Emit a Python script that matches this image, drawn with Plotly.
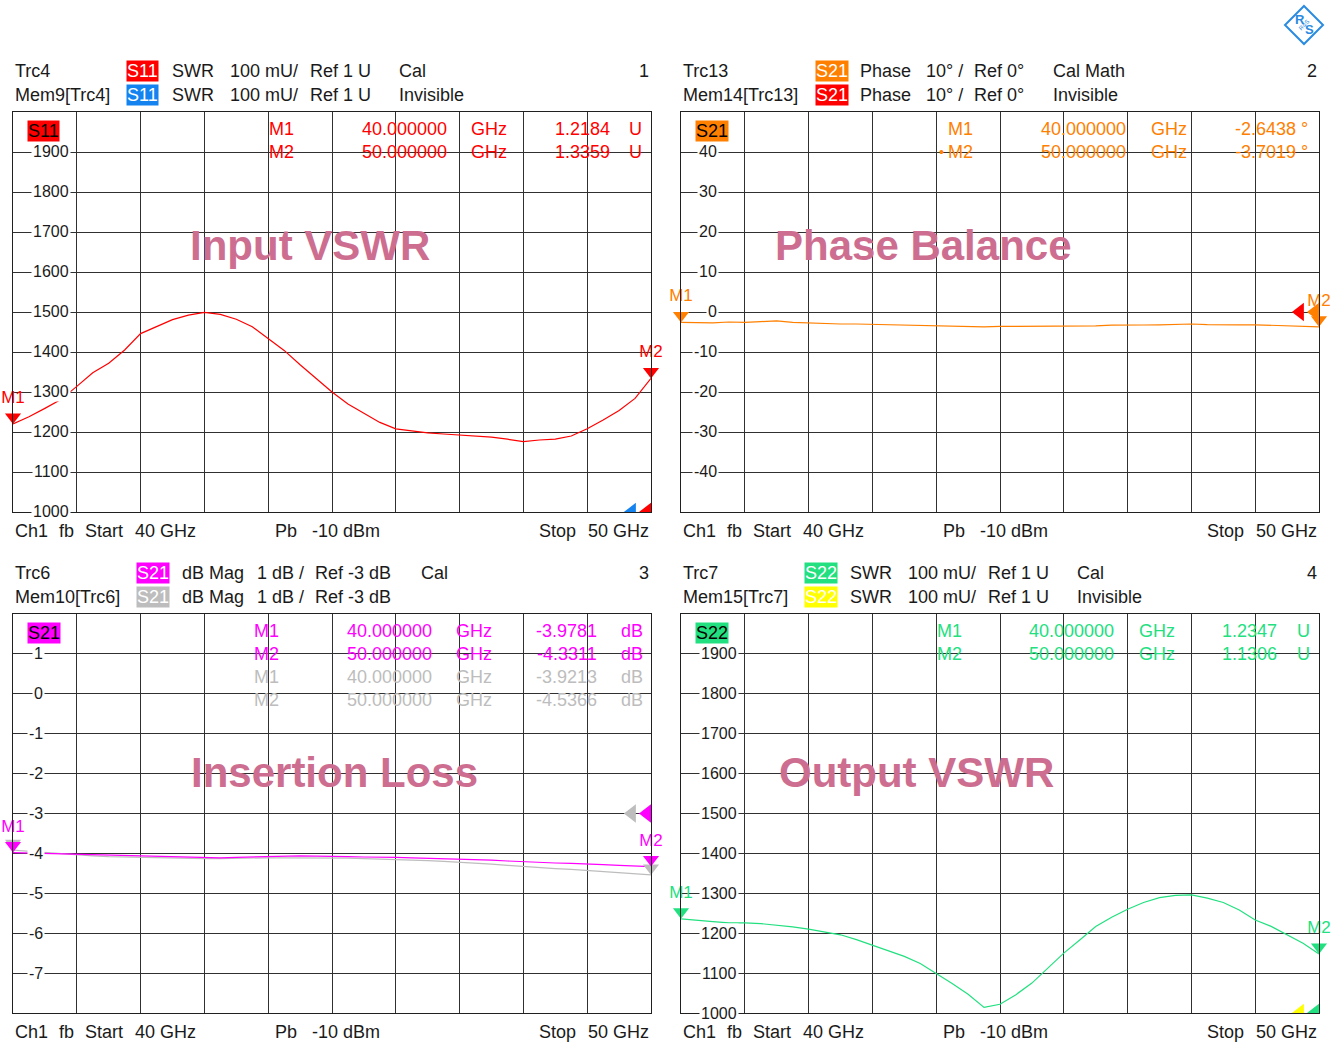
import plotly.graph_objects as go

# ---------------- data ----------------
FREQ_GHZ = [40.0 + 0.25 * i for i in range(41)]

S11_SWR = [1.220, 1.238, 1.259, 1.281, 1.314, 1.348, 1.372, 1.405, 1.446, 1.463,
           1.481, 1.492, 1.499, 1.494, 1.482, 1.463, 1.434, 1.404, 1.368, 1.333,
           1.300, 1.270, 1.248, 1.224, 1.208, 1.203, 1.198, 1.195, 1.192, 1.190,
           1.187, 1.182, 1.176, 1.180, 1.182, 1.190, 1.208, 1.230, 1.254, 1.284,
           1.334]

S21_PHASE = [-2.60, -2.60, -2.70, -2.50, -2.60, -2.40, -2.20, -2.60, -2.75, -2.85,
             -3.00, -3.00, -3.10, -3.15, -3.30, -3.40, -3.50, -3.60, -3.65, -3.70,
             -3.60, -3.60, -3.50, -3.45, -3.50, -3.50, -3.45, -3.30, -3.20, -3.25,
             -3.20, -3.10, -3.00, -3.15, -3.10, -3.20, -3.20, -3.30, -3.40, -3.60,
             -3.70]

S21_DB = [-3.98, -3.99, -4.00, -4.01, -4.02, -4.04, -4.05, -4.06, -4.06, -4.08,
          -4.09, -4.10, -4.11, -4.11, -4.10, -4.09, -4.08, -4.07, -4.06, -4.07,
          -4.07, -4.08, -4.09, -4.09, -4.10, -4.11, -4.12, -4.13, -4.14, -4.15,
          -4.17, -4.19, -4.21, -4.22, -4.24, -4.25, -4.26, -4.28, -4.30, -4.31,
          -4.33]

S21_DB_MEM = [-3.92, -3.95, -3.98, -4.01, -4.04, -4.06, -4.08, -4.09, -4.10, -4.11,
              -4.12, -4.13, -4.13, -4.13, -4.12, -4.12, -4.11, -4.11, -4.11, -4.12,
              -4.12, -4.12, -4.13, -4.14, -4.15, -4.16, -4.18, -4.20, -4.22, -4.24,
              -4.27, -4.30, -4.33, -4.35, -4.38, -4.40, -4.43, -4.45, -4.48, -4.51,
              -4.54]

S22_SWR = [1.236, 1.232, 1.229, 1.226, 1.226, 1.224, 1.220, 1.216, 1.210, 1.203,
           1.196, 1.184, 1.170, 1.157, 1.142, 1.124, 1.100, 1.074, 1.047, 1.014,
           1.022, 1.046, 1.075, 1.112, 1.150, 1.183, 1.217, 1.240, 1.260, 1.277,
           1.289, 1.295, 1.296, 1.288, 1.277, 1.258, 1.233, 1.217, 1.196, 1.175,
           1.148]

SWR_TICKS = [1.9, 1.8, 1.7, 1.6, 1.5, 1.4, 1.3, 1.2, 1.1, 1.0]
SWR_TICK_LABELS = ["1900", "1800", "1700", "1600", "1500", "1400", "1300", "1200", "1100", "1000"]
PHASE_TICKS = [40, 30, 20, 10, 0, -10, -20, -30, -40]
PHASE_TICK_LABELS = ["40", "30", "20", "10", "0", "-10", "-20", "-30", "-40"]
DB_TICKS = [1, 0, -1, -2, -3, -4, -5, -6, -7]
DB_TICK_LABELS = ["1", "0", "-1", "-2", "-3", "-4", "-5", "-6", "-7"]

MARKER_FREQS = ["40.000000", "50.000000"]
S11_MARKER_VALUES = ["1.2184", "1.3359"]
S21_PHASE_MARKER_VALUES = ["-2.6438 °", "-3.7019 °"]
S21_DB_MARKER_VALUES = ["-3.9781", "-4.3311"]
S21_DB_MEM_MARKER_VALUES = ["-3.9213", "-4.5366"]
S22_MARKER_VALUES = ["1.2347", "1.1306"]

# ---------------- style ----------------
W, H = 1334, 1043
FONT = "Liberation Sans, Arial, sans-serif"
TXT = "#1a1a1a"
GRID = "#303030"
RED = "#FF0000"
BLUE = "#1483F0"
ORANGE = "#FF8000"
MAGENTA = "#FF00FF"
GRAY = "#BDBDBD"
GREEN = "#22E07F"
YELLOW = "#FFFF00"
TITLE_COLOR = "#CD6E90"
LOGO = "#2A8BE0"


def px(x):
    return x / W


def py(y):
    return 1 - y / H


# panel pixel boxes: (left, top, right, bottom)
PANELS = {
    1: (13, 112, 651, 512),
    2: (681, 112, 1319, 512),
    3: (13, 614, 651, 1013),
    4: (681, 614, 1319, 1013),
}
YRANGES = {1: [1.0, 2.0], 2: [-50, 50], 3: [-8, 2], 4: [1.0, 2.0]}
YDTICK = {1: 0.1, 2: 10, 3: 1, 4: 0.1}

fig = go.Figure()
layout = dict(width=W, height=H, autosize=False,
              margin=dict(l=0, r=0, t=0, b=0),
              paper_bgcolor="white", plot_bgcolor="white",
              showlegend=False)

for k, (l, t, r, b) in PANELS.items():
    xa = "xaxis" if k == 1 else f"xaxis{k}"
    ya = "yaxis" if k == 1 else f"yaxis{k}"
    layout[xa] = dict(domain=[px(l), px(r)], range=[40, 50], tick0=40, dtick=1,
                      showgrid=True, gridcolor=GRID, gridwidth=1, zeroline=False,
                      showticklabels=False, ticks="", showline=True, mirror=True,
                      linecolor="#202020", linewidth=1,
                      anchor="y" if k == 1 else f"y{k}")
    layout[ya] = dict(domain=[py(b), py(t)], range=YRANGES[k], tick0=0, dtick=YDTICK[k],
                      showgrid=True, gridcolor=GRID, gridwidth=1, zeroline=False,
                      showticklabels=False, ticks="", showline=True, mirror=True,
                      linecolor="#202020", linewidth=1,
                      anchor="x" if k == 1 else f"x{k}")


def axn(k):
    return ("x", "y") if k == 1 else (f"x{k}", f"y{k}")


def line(k, y, color):
    xr, yr = axn(k)
    fig.add_trace(go.Scatter(x=FREQ_GHZ, y=y, mode="lines", xaxis=xr, yaxis=yr,
                             line=dict(color=color, width=1.2), hoverinfo="skip"))


def tip_off(k, pxs=7):
    l, t, r, b = PANELS[k]
    lo, hi = YRANGES[k]
    return pxs * (hi - lo) / (b - t)


def mmarkers(k, y, color, labels=("M1", "M2")):
    xr, yr = axn(k)
    off = tip_off(k)
    fig.add_trace(go.Scatter(x=[FREQ_GHZ[0], FREQ_GHZ[-1]], y=[y[0] + off, y[-1] + off],
                             mode="markers+text", text=list(labels), textposition="top center",
                             textfont=dict(family=FONT, size=17, color=color),
                             marker=dict(symbol="triangle-down", size=14, color=color),
                             cliponaxis=False, xaxis=xr, yaxis=yr, hoverinfo="skip"))


def refmarks(k, yref, colors):
    xr, yr = axn(k)
    fig.add_trace(go.Scatter(x=[49.70, 49.937], y=[yref, yref], mode="markers",
                             marker=dict(symbol="triangle-left", size=16, color=colors),
                             cliponaxis=True, xaxis=xr, yaxis=yr, hoverinfo="skip"))


# panel 1
line(1, S11_SWR, RED)
refmarks(1, 1.0, [BLUE, RED])
mmarkers(1, S11_SWR, RED)
# panel 2
line(2, S21_PHASE, ORANGE)
refmarks(2, 0, [RED, ORANGE])
mmarkers(2, S21_PHASE, ORANGE)
# panel 3
line(3, S21_DB_MEM, GRAY)
line(3, S21_DB, MAGENTA)
refmarks(3, -3, [GRAY, MAGENTA])
mmarkers(3, S21_DB_MEM, GRAY, labels=("", ""))
mmarkers(3, S21_DB, MAGENTA)
# panel 4
line(4, S22_SWR, GREEN)
refmarks(4, 1.0, [YELLOW, GREEN])
mmarkers(4, S22_SWR, GREEN)

ann = []


def txt(x, y, s, color=TXT, size=18, anchor="left", bg=None, bold=False, angle=0):
    d = dict(x=px(x), y=py(y), xref="paper", yref="paper", text=("<b>%s</b>" % s if bold else s),
             showarrow=False, xanchor=anchor, yanchor="middle", textangle=angle,
             font=dict(family=FONT, size=size, color=color), borderpad=0)
    if bg:
        d["bgcolor"] = bg
    ann.append(d)


# tick labels (white background breaking the grid line)
def ticklabels(k, vals, labels, xright):
    xr, yr = axn(k)
    for v, s in zip(vals, labels):
        ann.append(dict(x=px(xright), y=v, xref="paper", yref=yr, text=s, showarrow=False,
                        xanchor="right", yanchor="middle", bgcolor="white", borderpad=1,
                        font=dict(family=FONT, size=16, color=TXT)))


ticklabels(1, SWR_TICKS, SWR_TICK_LABELS, 71)
ticklabels(2, PHASE_TICKS, PHASE_TICK_LABELS, 719)
ticklabels(3, DB_TICKS, DB_TICK_LABELS, 45)
ticklabels(4, SWR_TICKS, SWR_TICK_LABELS, 739)

# headers
def header(dx, dy, trc, mem, par, c1, c2, fmt_parts, cal, inv, num, boxx):
    y1, y2 = 71 + dy, 95 + dy
    txt(14 + dx, y1, trc)
    txt(14 + dx, y2, mem)
    txt(boxx + dx, y1, par, color="white", bg=c1)
    txt(boxx + dx, y2, par, color="white", bg=c2)
    for s, x in fmt_parts:
        txt(x + dx, y1, s)
        txt(x + dx, y2, s)
    txt(cal[1] + dx, y1, cal[0])
    if inv:
        txt(cal[1] + dx, y2, inv)
    txt(650 + dx, y1, num, anchor="right")


header(0, 0, "Trc4", "Mem9[Trc4]", "S11", RED, BLUE,
       [("SWR", 171), ("100 mU/", 229), ("Ref 1 U", 309)], ("Cal", 398), "Invisible", "1", 126)
header(668, 0, "Trc13", "Mem14[Trc13]", "S21", ORANGE, RED,
       [("Phase", 191), ("10° /", 257), ("Ref 0°", 305)], ("Cal Math", 384), "Invisible", "2", 147)
header(0, 502, "Trc6", "Mem10[Trc6]", "S21", MAGENTA, GRAY,
       [("dB Mag", 181), ("1 dB /", 256), ("Ref -3 dB", 314)], ("Cal", 420), None, "3", 136)
header(668, 502, "Trc7", "Mem15[Trc7]", "S22", GREEN, YELLOW,
       [("SWR", 181), ("100 mU/", 239), ("Ref 1 U", 319)], ("Cal", 408), "Invisible", "4", 136)

# footers
for dx, dy in [(0, 0), (668, 0), (0, 501), (668, 501)]:
    y = 531 + dy
    txt(14 + dx, y, "Ch1")
    txt(58 + dx, y, "fb")
    txt(84 + dx, y, "Start")
    txt(134 + dx, y, "40 GHz")
    txt(274 + dx, y, "Pb")
    txt(311 + dx, y, "-10 dBm")
    txt(538 + dx, y, "Stop")
    txt(650 + dx, y, "50 GHz", anchor="right")

# in-plot trace labels
txt(27, 131, "S11", color="black", bg=RED)
txt(695, 131, "S21", color="black", bg=ORANGE)
txt(27, 633, "S21", color="black", bg=MAGENTA)
txt(695, 633, "S22", color="black", bg=GREEN)


# marker readouts
def readout(y, xm, xf, xg, xv, xu, name, f, v, unit, color):
    txt(xm, y, name, color=color)
    txt(xf, y, f, color=color, anchor="right")
    txt(xg, y, "GHz", color=color)
    txt(xv, y, v, color=color, anchor="right")
    if unit:
        txt(xu, y, unit, color=color)


for i, yy in enumerate([129, 152]):
    readout(yy, 268, 448, 470, 611, 628, "M%d" % (i + 1), MARKER_FREQS[i], S11_MARKER_VALUES[i], "U", RED)
    readout(yy, 947, 1127, 1150, 1309, None, "M%d" % (i + 1), MARKER_FREQS[i], S21_PHASE_MARKER_VALUES[i], None, ORANGE)
    readout(yy + 502, 253, 433, 455, 598, 620, "M%d" % (i + 1), MARKER_FREQS[i], S21_DB_MARKER_VALUES[i], "dB", MAGENTA)
    readout(yy + 548, 253, 433, 455, 598, 620, "M%d" % (i + 1), MARKER_FREQS[i], S21_DB_MEM_MARKER_VALUES[i], "dB", GRAY)
    readout(yy + 502, 936, 1115, 1138, 1278, 1296, "M%d" % (i + 1), MARKER_FREQS[i], S22_MARKER_VALUES[i], "U", GREEN)
txt(945, 152, "•", color=ORANGE, anchor="right", size=14)

# big titles
txt(310, 245, "Input VSWR", color=TITLE_COLOR, size=42, anchor="center", bold=True)
txt(923, 245, "Phase Balance", color=TITLE_COLOR, size=42, anchor="center", bold=True)
txt(334, 772, "Insertion Loss", color=TITLE_COLOR, size=42, anchor="center", bold=True)
txt(916, 772, "Output VSWR", color=TITLE_COLOR, size=42, anchor="center", bold=True)

# R&S logo
cx, cy, hs = 1304, 25, 19
layout["shapes"] = [dict(type="path", xref="paper", yref="paper",
                         path="M %f,%f L %f,%f L %f,%f L %f,%f Z" % (
                             px(cx), py(cy - hs), px(cx + hs), py(cy), px(cx), py(cy + hs), px(cx - hs), py(cy)),
                         line=dict(color=LOGO, width=2), fillcolor="white")]
txt(1300, 20, "R", color=LOGO, size=13, anchor="center", bold=True)
txt(1309, 30, "S", color=LOGO, size=13, anchor="center", bold=True)
txt(1304, 25, "R&S", color=LOGO, size=6, anchor="center", angle=-45)

layout["annotations"] = ann
fig.update_layout(**layout)
fig.write_html("out.html", config={"displayModeBar": False},
               post_script="document.body.style.margin='0px';document.body.style.overflow='hidden';")
